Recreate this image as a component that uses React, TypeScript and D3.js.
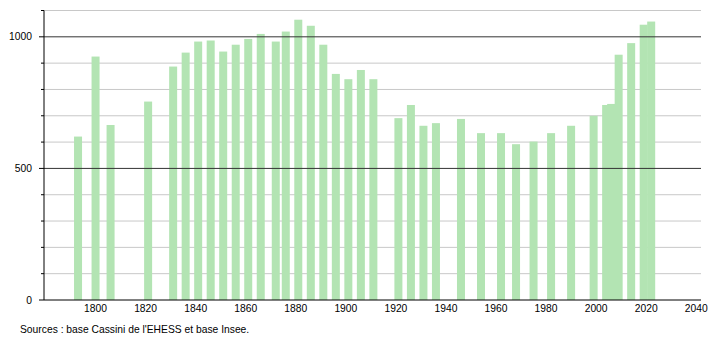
import React from "react";
import * as d3 from "d3";

const years = [1793, 1800, 1806, 1821, 1831, 1836, 1841, 1846, 1851, 1856, 1861, 1866, 1872, 1876, 1881, 1886, 1891, 1896, 1901, 1906, 1911, 1921, 1926, 1931, 1936, 1946, 1954, 1962, 1968, 1975, 1982, 1990, 1999, 2004, 2006, 2009, 2014, 2019, 2022];
const population = [621, 925, 665, 754, 887, 940, 982, 986, 944, 970, 992, 1011, 982, 1020, 1065, 1042, 970, 859, 839, 874, 839, 691, 741, 662, 672, 688, 634, 634, 592, 602, 634, 662, 700, 741, 745, 932, 976, 1046, 1058];
const xTickYears = [1800, 1820, 1840, 1860, 1880, 1900, 1920, 1940, 1960, 1980, 2000, 2020, 2040];
const yMajorTicks = [0, 500, 1000];
const yMinorTicks = [100, 200, 300, 400, 600, 700, 800, 900, 1100];
const sourceText = "Sources : base Cassini de l'EHESS et base Insee.";

const W = 710;
const H = 340;
const left = 44;
const right = 701;
const top = 10.5;
const bottom = 300;

export default function App() {
  const x = d3.scaleLinear().domain([1779.4, 2041.9]).range([left, right]);
  const y = d3.scaleLinear().domain([0, 1100]).range([bottom, top]);
  const barW = 8;
  const font = "'Liberation Sans', Arial, Helvetica, sans-serif";
  return (
    <svg width={W} height={H} style={{ position: "absolute", left: 0, top: 0, background: "#fff" }}>
      {yMinorTicks.map((v) => (
        <g key={"mi" + v}>
          <line x1={left} x2={right} y1={y(v)} y2={y(v)} stroke="#c8c8c8" strokeWidth={1} />
          <line x1={left - 3} x2={left} y1={y(v)} y2={y(v)} stroke="#000" strokeWidth={1} />
        </g>
      ))}
      {years.map((yr, i) => (
        <rect key={yr} x={x(yr) - barW / 2} y={y(population[i])} width={barW} height={bottom - y(population[i])} fill="#b3e4b3" />
      ))}
      {yMajorTicks.map((v) => (
        <g key={"ma" + v}>
          {v !== 0 && <line x1={left} x2={right} y1={y(v)} y2={y(v)} stroke="#333" strokeWidth={1} />}
          <line x1={left - 5} x2={left} y1={y(v)} y2={y(v)} stroke="#000" strokeWidth={1} />
          <text x={32} y={y(v) + 3.6} textAnchor="end" fontSize={10.3} fontFamily={font} fill="#000">{v}</text>
        </g>
      ))}
      <line x1={left} x2={left} y1={top} y2={bottom} stroke="#000" strokeWidth={1} />
      <line x1={left} x2={right} y1={bottom} y2={bottom} stroke="#000" strokeWidth={1} />
      {xTickYears.map((t) => (
        <text key={t} x={x(t)} y={312} textAnchor="middle" fontSize={10.3} fontFamily={font} fill="#000">{t}</text>
      ))}
      <text x={20} y={333} fontSize={10.3} fontFamily={font} fill="#000">{sourceText}</text>
    </svg>
  );
}
